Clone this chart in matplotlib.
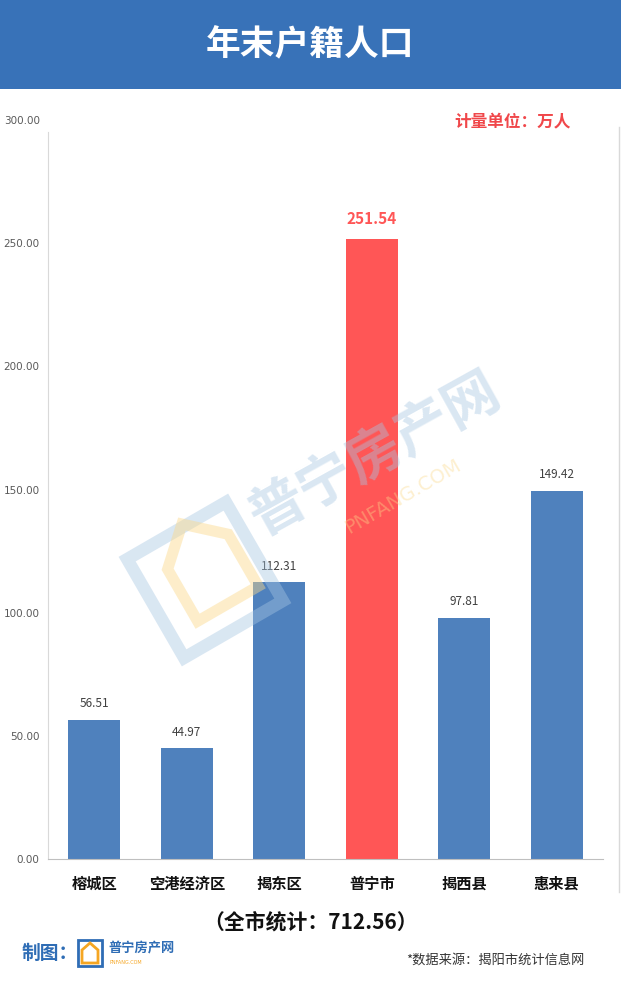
import matplotlib
matplotlib.use("Agg")
import matplotlib.pyplot as plt
from matplotlib.patches import Rectangle, Polygon
import matplotlib.transforms as mtransforms
import numpy as np

plt.rcParams['font.family'] = ['Noto Sans CJK SC', 'DejaVu Sans']

# ---- data ----
categories = ["榕城区", "空港经济区", "揭东区", "普宁市", "揭西县", "惠来县"]
values = [56.51, 44.97, 112.31, 251.54, 97.81, 149.42]
highlight = "普宁市"
yticks = [0, 50, 100, 150, 200, 250, 300]
title = "年末户籍人口"
unit_text = "计量单位：万人"
total_text = "（全市统计：712.56）"
source_text = "*数据来源：揭阳市统计信息网"

W, H = 621, 983
fig = plt.figure(figsize=(W / 100, H / 100), dpi=100)
fig.patch.set_facecolor("white")

def fx(px):
    return px / W

def fy(py):
    return 1 - py / H

# header band
fig.patches.append(Rectangle((0, fy(89)), 1, 89 / H, transform=fig.transFigure,
                             facecolor="#3872b8", edgecolor="none", zorder=0))
fig.text(fx(310), fy(45), title, color="white", fontsize=25, fontweight="bold",
         ha="center", va="center")

# main axes
ax_left, ax_right, ax_top, ax_bottom = 48, 603, 120, 859
ax = fig.add_axes([fx(ax_left), fy(ax_bottom), (ax_right - ax_left) / W, (ax_bottom - ax_top) / H])
x = np.arange(len(categories))
colors = ["#ff5656" if c == highlight else "#4f81bd" for c in categories]
bars = ax.bar(x, values, width=0.56, color=colors, zorder=2)
ax.set_xlim(-0.5, len(categories) - 0.5)
ax.set_ylim(0, 300)
ax.set_yticks(yticks)
ax.set_yticklabels([f"{v:.2f}" for v in yticks], fontsize=7.5, color="#595959",
                   family=['DejaVu Sans'])
ax.tick_params(axis="y", length=0, pad=6)
ax.set_xticks(x)
ax.set_xticklabels(categories, fontsize=11, fontweight="bold", color="#111111")
ax.tick_params(axis="x", length=0, pad=12)
for s in ["top", "right"]:
    ax.spines[s].set_visible(False)
ax.spines["left"].set_color("#d9d9d9")
ax.spines["left"].set_bounds(0, 295)
ax.spines["bottom"].set_color("#bfbfbf")
ax.patch.set_alpha(0)

for xi, v, c in zip(x, values, categories):
    if c == highlight:
        ax.annotate(f"{v:.2f}", (xi, v), xytext=(0, 9), textcoords="offset points",
                    ha="center", va="bottom", fontsize=11, fontweight="bold", color="#ff5656")
    else:
        ax.annotate(f"{v:.2f}", (xi, v), xytext=(0, 7), textcoords="offset points",
                    ha="center", va="bottom", fontsize=8.5, color="#404040")

# right border line
fig.add_artist(plt.Line2D([fx(619), fx(619)], [fy(127), fy(892)], color="#d9d9d9", lw=1))

# unit text
fig.text(fx(513), fy(122), unit_text, color="#f0474a", fontsize=12, fontweight="bold",
         ha="center", va="center")

# total text
fig.text(fx(311), fy(922), total_text, color="#111111", fontsize=15, fontweight="bold",
         ha="center", va="center")

# source
fig.text(fx(585), fy(960), source_text, color="#333333", fontsize=9.5,
         ha="right", va="center")

# overlay for watermark & logo (pixel coordinates)
ov = fig.add_axes([0, 0, 1, 1], zorder=5)
ov.set_xlim(0, W)
ov.set_ylim(H, 0)
ov.axis("off")
ov.patch.set_alpha(0)

# watermark
ov.text(375, 455, "普宁房产网", rotation=29, fontsize=40, fontweight="bold",
        color="#a6c6e2", alpha=0.42, ha="center", va="center", rotation_mode="anchor")
ov.text(403, 497, "PNFANG.COM", rotation=30, fontsize=14,
        color="#fbd98a", alpha=0.4, ha="center", va="center", rotation_mode="anchor",
        family=['DejaVu Sans'])
# watermark logo (bracket square + house)
tr = mtransforms.Affine2D().rotate_deg_around(205, 580, -30) + ov.transData
sq = Rectangle((148, 523), 114, 114, fill=False, edgecolor="#a6c6e2", lw=9, alpha=0.42)
sq.set_transform(tr)
ov.add_patch(sq)
house = Polygon([[178, 612], [178, 552], [213, 520], [248, 552], [248, 612]], closed=True,
                fill=False, edgecolor="#fbd98a", lw=8, alpha=0.45)
house.set_transform(tr)
ov.add_patch(house)

# bottom "制图" logo
ov.text(22, 953, "制图：", color="#2f6db5", fontsize=13.5, fontweight="bold",
        ha="left", va="center")
ov.add_patch(Rectangle((78, 940), 24, 26, fill=False, edgecolor="#2f6db5", lw=2))
ov.add_patch(Polygon([[82, 963], [82, 950], [90, 943], [98, 950], [98, 963]], closed=True,
                     fill=False, edgecolor="#f5a623", lw=2))
ov.text(108, 948, "普宁房产网", color="#2f6db5", fontsize=9.5, fontweight="bold",
        ha="left", va="center")
ov.text(110, 962, "PNFANG.COM", color="#f5a623", fontsize=3.5, ha="left", va="center",
        family=['DejaVu Sans'])

fig.savefig("out.png", dpi=100)
